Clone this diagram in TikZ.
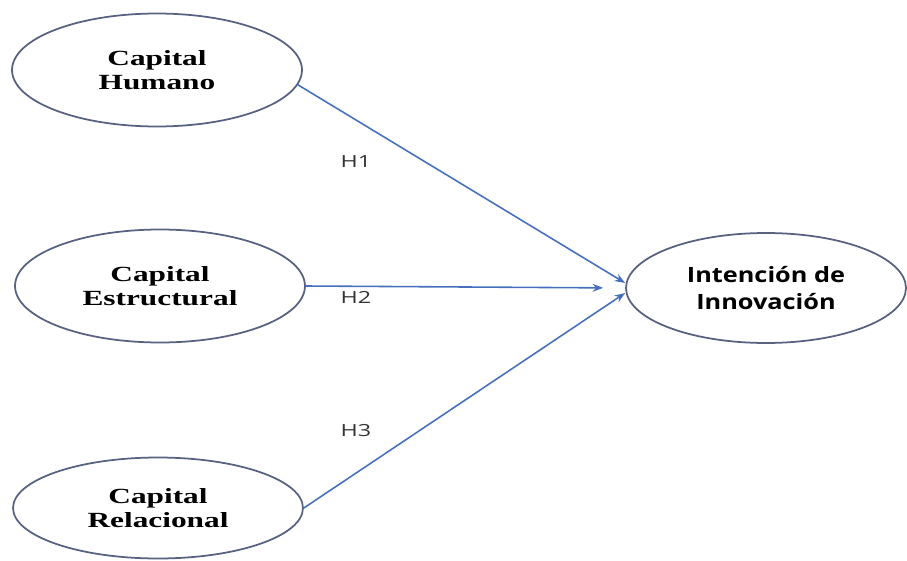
\documentclass[tikz,border=0pt]{standalone}
\usepackage{fontspec}
\setmainfont{Liberation Serif}
\newfontfamily\capfont[FakeStretch=1.45]{Liberation Serif}
\newfontfamily\intfont[FakeStretch=1.2]{Open Sans}
\newfontfamily\hypfont[FakeStretch=1.4]{Open Sans}
\usetikzlibrary{shapes.geometric,arrows.meta}
\definecolor{ellline}{RGB}{88,98,128}
\definecolor{arrline}{RGB}{70,112,190}
\tikzset{
  capnode/.style={draw=ellline, line width=1pt, ellipse, inner sep=0pt, align=center,
    minimum width=5.8cm, minimum height=2.26cm,
    font=\capfont\bfseries\fontsize{12.3}{13.4}\selectfont},
  resnode/.style={draw=ellline, line width=1pt, ellipse, inner sep=0pt, align=center,
    minimum width=5.6cm, minimum height=2.2cm,
    font=\intfont\bfseries\fontsize{12}{15.5}\selectfont},
  hlabel/.style={font=\hypfont\fontsize{9.5}{11}\selectfont, text=black!80},
  hyparrow/.style={draw=arrline, line width=0.9pt, -{Stealth[length=6pt,width=4.5pt]}}
}
\begin{document}
\begin{tikzpicture}[x=0.02cm,y=-0.02cm]
\useasboundingbox (0,0) rectangle (907,561);
\node[capnode] (humano) at (157,70) {Capital\\Humano};
\node[capnode] (estructural) at (160,286) {Capital\\Estructural};
\node[capnode, minimum height=2.02cm] (relacional) at (158,508) {Capital\\Relacional};
\node[resnode] (intencion) at (766,288) {Intención de\\Innovación};
\node[hlabel] (h1) at (356,162) {H1};
\node[hlabel] (h2) at (356,297) {H2};
\node[hlabel] (h3) at (356,431) {H3};
\draw[hyparrow] (humano.-6) -- ([yshift=0.1cm]intencion.west);
\draw[hyparrow, shorten >=0.44cm] (estructural.east) -- (intencion.west);
\draw[hyparrow] (relacional.east) -- ([yshift=-0.1cm]intencion.west);
\end{tikzpicture}
\end{document}
